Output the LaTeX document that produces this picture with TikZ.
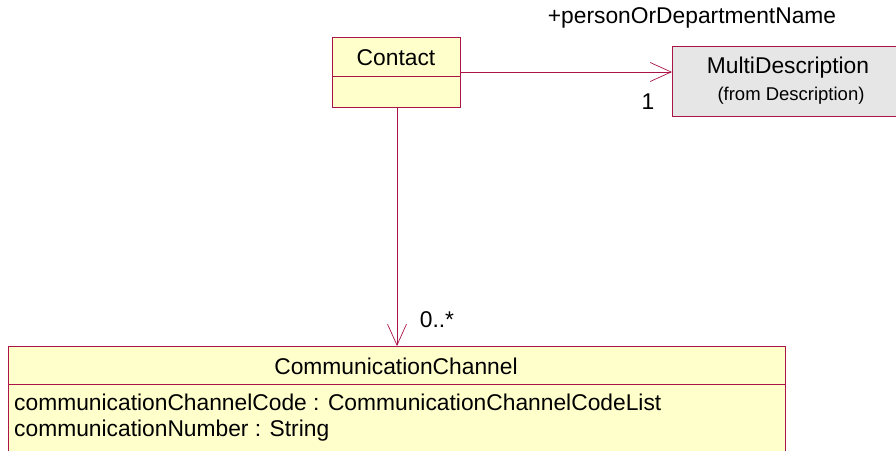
\documentclass[tikz,border=0pt]{standalone}
\usepackage{fontspec}
\setmainfont{Liberation Sans}
\usetikzlibrary{arrows.meta}
\definecolor{umlborder}{RGB}{170,20,70}
\definecolor{umlfill}{RGB}{255,255,204}
\definecolor{umlgray}{RGB}{230,230,230}
\tikzset{
  cls/.style={draw=umlborder, fill=umlfill, line width=0.9pt},
  clsgray/.style={draw=umlborder, fill=umlgray, line width=0.9pt},
  assoc/.style={draw=umlborder, line width=0.7pt, -{Straight Barb[length=21pt,width=19pt,line width=0.7pt]}},
  txt/.style={inner sep=0pt, font=\fontsize{22.8}{26}\selectfont},
}
\begin{document}
\begin{tikzpicture}[x=1pt,y=-1pt]
\clip (0,0) rectangle (896,450);
\fill[white] (0,0) rectangle (896,450);
% Contact
\draw[cls] (332,37) rectangle (460,107);
\draw[umlborder, line width=0.7pt] (332,76) -- (460,76);
\node[txt] (contact) at (396,58) {Contact};
\coordinate (cR) at (460,72);
\coordinate (cB) at (397,107);
% MultiDescription
\draw[clsgray] (672,46) rectangle (900,116);
\node[txt] (md) at (788,68) {MultiDescription};
\node[inner sep=0pt, font=\fontsize{18.5}{21}\selectfont] (mdfrom) at (791,96) {(from Description)};
\coordinate (mdL) at (672,72);
% CommunicationChannel
\draw[cls] (8,346) rectangle (785,460);
\draw[umlborder, line width=0.7pt] (8,384) -- (785,384);
\node[txt] (cc) at (396,366) {CommunicationChannel};
\node[txt, anchor=west] (a1) at (14,402) {communicationChannelCode : CommunicationChannelCodeList};
\node[txt, anchor=west] (a2) at (14,431) {communicationNumber : String};
\coordinate (ccT) at (397,346);
% connectors
\draw[assoc] (cR) -- (mdL);
\draw[assoc] (cB) -- (ccT);
\node[txt] (role) at (692,18) {+personOrDepartmentName};
\node[txt] (m1) at (648,102) {1};
\node[txt] (m2) at (437,320) {0..*};
\end{tikzpicture}
\end{document}
